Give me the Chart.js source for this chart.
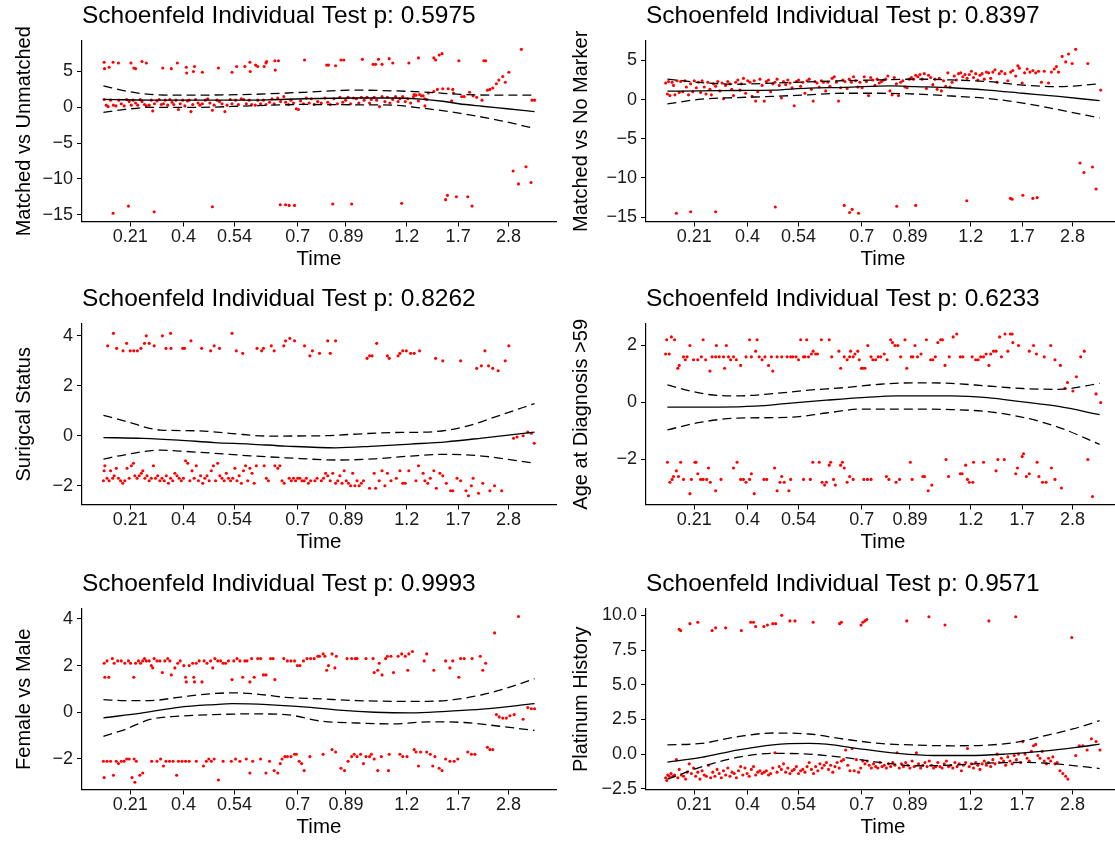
<!DOCTYPE html>
<html>
<head>
<meta charset="utf-8">
<script src="https://cdn.jsdelivr.net/npm/chart.js@4.4.1/dist/chart.umd.min.js"></script>
<style>
  html, body { margin: 0; padding: 0; background: #fff; overflow: hidden; }
  #page { position: relative; width: 1115px; height: 841px; overflow: hidden; }
  canvas { position: absolute; }
</style>
</head>
<body>
<div id="page">
  <canvas id="c1" width="557" height="280" style="left:0;top:-1px"></canvas>
  <canvas id="c2" width="565" height="280" style="left:557px;top:-1px"></canvas>
  <canvas id="c3" width="557" height="280" style="left:0;top:282px"></canvas>
  <canvas id="c4" width="565" height="280" style="left:557px;top:282px"></canvas>
  <canvas id="c5" width="557" height="280" style="left:0;top:567px"></canvas>
  <canvas id="c6" width="565" height="280" style="left:557px;top:567px"></canvas>
</div>
<script>
// x axis: KM-transformed time, tick positions and their time labels
var timeTickPos = [36.5, 51.4, 65.7, 83.4, 96.9, 113.9, 128.3, 142.4];
var timeTickLabels = ['0.21', '0.4', '0.54', '0.7', '0.89', '1.2', '1.7', '2.8'];
var timeMin = 23.0, timeMax = 155.7;

// Panel 1: Matched vs Unmatched
var mvuPoints = [
  [29.2,6.3],[29.3,5.4],[30.6,5.6],[31.7,6.3],[33.2,6.2],[36.7,6.2],[37.5,5.5],[38.0,5.4],[39.8,6.4],[41.0,6.2],[45.6,5.5],[48.0,5.4],[49.7,6.2],[52.2,5.6],[52.3,4.8],[54.5,5.7],[54.2,5.0],[56.7,4.9],[61.2,5.5],[65.0,4.9],[66.3,5.7],[68.6,5.7],[70.0,6.3],[70.1,5.0],[71.6,5.9],[72.2,5.7],[74.0,5.7],[74.5,6.2],[74.7,6.4],[77.0,6.5],[77.1,5.2],[78.0,6.5],[85.3,6.6],[91.5,5.9],[92.0,5.9],[94.0,5.8],[95.5,6.6],[96.3,6.6],[101.5,6.7],[104.5,6.0],[105.2,6.0],[106.0,6.7],[107.0,6.0],[109.0,6.8],[110.0,6.2],[114.5,6.2],[117.2,6.9],[121.5,6.9],[122.0,6.6],[123.0,7.3],[123.8,7.5],[128.5,6.5],[135.5,6.5],[136.0,6.5],[146.0,8.1],
  [136.5,2.4],[137.2,2.5],[138.0,2.7],[139.0,3.3],[139.7,3.8],[140.8,4.3],[141.5,3.5],[142.5,4.9],[149.7,1.0],[149.0,1.0],
  [31.7,-14.8],[36.0,-13.8],[43.2,-14.6],[59.5,-13.9],[78.5,-13.6],[80.0,-13.6],[81.0,-13.7],[82.5,-13.7],[93.2,-13.5],[98.5,-13.5],[112.5,-13.4],[124.8,-12.9],[125.3,-12.3],[127.8,-12.5],[131.0,-12.5],[132.2,-13.8],[143.7,-8.9],[145.2,-10.7],[147.3,-8.3],[148.7,-10.5],
  [120.0,2.0],[121.5,2.2],[122.5,2.5],[124.0,2.6],[125.5,2.6],[126.8,2.5],[127.0,2.0],[129.3,1.5],[130.0,1.5],[131.5,2.1],[132.5,1.6],[133.5,1.4],[135.0,1.0],[116.0,1.8],[117.5,1.8],[118.5,1.6],[119.0,1.2],[119.5,1.1],[119.0,0.2],[126.5,0.9],
  [29.2,1.1],[29.8,0.3],[30.3,0.1],[31.0,1.0],[31.8,0.3],[32.5,0.2],[33.3,1.0],[34.0,0.5],[34.8,0.2],[35.5,1.1],[36.2,0.8],[36.8,0.3],[37.3,1.0],[38.0,0.6],[38.6,0.3],[39.3,1.1],[39.8,0.8],[40.5,0.4],[41.0,0.2],[41.8,0.3],[42.4,1.0],[42.8,-0.5],[43.3,0.5],[44.0,0.9],[44.6,1.1],[45.2,0.4],[45.8,0.5],[46.3,1.0],[47.0,0.3],[47.6,1.1],[48.2,0.7],[48.7,0.4],[49.3,1.0],[50.0,-0.3],[50.5,0.5],[51.2,1.0],[51.8,0.2],[52.5,0.9],[53.0,1.0],[53.5,-0.6],[54.0,0.4],[54.8,1.1],[55.5,0.6],[56.0,0.3],[56.7,0.5],[57.5,1.0],[58.2,1.2],[58.8,0.6],[59.5,-0.4],[60.0,0.3],[60.8,1.0],[61.5,0.8],[62.2,0.5],[63.0,-0.6],[63.6,0.3],[64.5,1.1],[65.0,0.5],[66.0,1.0],[66.8,0.4],[67.6,1.2],[68.2,1.1],[69.0,0.5],[69.8,1.0],[70.5,0.4],[71.5,0.3],[72.2,1.0],[73.0,0.5],[73.8,1.0],[74.5,0.4],[75.5,0.7],[76.2,1.2],[76.8,0.5],[77.8,1.3],[78.6,0.8],[79.5,1.5],[80.0,0.7],[80.8,0.4],[81.5,1.0],[82.2,0.6],[83.0,-0.2],[83.6,-0.3],[84.2,0.9],[85.0,0.5],[85.8,1.3],[86.6,0.6],[87.2,1.2],[88.0,0.4],[89.0,0.8],[90.0,0.6],[91.0,1.3],[91.8,0.7],[92.5,0.4],[93.5,1.2],[94.5,0.5],[95.2,1.4],[96.0,0.7],[96.8,1.0],[97.5,1.4],[98.2,0.5],[99.0,1.3],[99.8,1.2],[100.5,0.6],[101.2,1.4],[102.0,1.0],[102.8,1.4],[103.5,0.6],[104.0,1.1],[104.8,1.4],[105.5,1.0],[106.3,0.1],[107.0,1.5],[107.8,0.8],[108.5,1.4],[109.2,0.6],[110.0,1.1],[110.8,1.5],[111.5,0.8],[112.0,1.2],[112.8,1.5],[113.5,0.8],[114.2,1.2],[115.0,0.6],[115.8,1.5],[116.5,1.7],[117.2,0.9],[118.0,1.6]
];
var mvuFit = [[29.0,1.1],[45.0,1.0],[60.0,1.0],[75.0,1.05],[85.0,1.2],[100.0,1.3],[110.0,1.3],[118.0,1.15],[124.0,0.85],[128.5,0.5],[135.0,0.15],[142.0,-0.2],[149.7,-0.6]];
var mvuUpper = [[29.0,3.0],[35.0,2.3],[42.0,1.8],[50.0,1.7],[70.0,1.8],[85.0,2.1],[100.0,2.4],[110.0,2.3],[120.0,2.1],[129.0,1.8],[140.0,1.7],[149.7,1.7]];
var mvuLower = [[29.0,-0.7],[35.0,-0.3],[42.0,0.0],[55.0,0.0],[70.0,0.2],[85.0,0.4],[100.0,0.35],[110.0,0.3],[118.0,-0.1],[129.0,-0.85],[140.0,-1.85],[149.7,-2.95]];

// Panel 2: Matched vs No Marker
var mvnPoints = [
  [28.5,2.1],[29.0,0.7],[29.3,2.3],[29.7,0.5],[30.3,2.2],[30.7,1.8],[31.1,0.6],[31.7,2.4],[32.3,0.9],[32.7,2.3],[33.3,1.0],[33.9,2.4],[34.3,1.6],[34.9,0.6],[35.5,2.0],[36.1,1.0],[36.5,2.4],[37.1,1.5],[37.7,2.2],[38.3,0.9],[38.7,2.4],[39.3,1.6],[39.8,0.7],[40.3,2.2],[40.9,1.3],[41.3,0.6],[41.9,2.0],[42.5,1.7],[43.1,2.3],[43.7,1.1],[44.3,2.1],[44.7,0.1],[45.3,1.8],[45.9,2.3],[46.5,2.0],[47.0,1.3],[47.5,0.5],[48.1,2.2],[48.7,2.5],[49.3,1.2],[49.7,2.0],[50.3,2.7],[50.9,0.8],[51.5,2.4],[52.1,2.2],[52.7,0.4],[53.3,2.4],[53.7,-0.2],[54.3,1.0],[54.9,2.6],[55.5,1.8],[56.1,-0.2],[56.7,2.3],[57.3,2.5],[57.9,1.0],[58.5,2.0],[59.1,2.2],[59.7,2.6],[60.3,1.8],[60.9,0.2],[61.5,2.3],[62.1,1.9],[62.7,2.5],[63.3,2.1],[63.9,1.5],[64.5,-0.8],[65.1,2.3],[65.7,2.5],[66.3,1.7],[66.9,2.2],[67.5,0.8],[68.1,2.4],[68.7,2.6],[69.3,1.3],[69.8,-0.2],[70.3,2.3],[70.9,2.1],[71.5,1.6],[72.1,2.4],[72.7,2.2],[73.3,1.1],[73.9,2.2],[74.5,1.7],[75.1,2.7],[75.7,2.9],[76.3,2.2],[76.9,-0.2],[77.5,1.5],[78.1,2.5],[78.7,2.3],[79.3,1.4],[79.9,2.6],[80.5,2.2],[81.1,2.9],[81.7,2.4],[82.3,1.6],[82.9,2.2],[83.5,1.5],[84.1,2.9],[84.7,2.3],[85.3,0.5],[85.9,2.8],[86.5,2.5],[87.1,1.8],[87.7,2.6],[88.3,2.1],[88.9,2.3],[89.5,2.5],[90.1,2.6],[90.7,3.0],[91.3,1.1],[91.9,0.6],[92.5,2.8],[93.1,2.0],[93.7,0.5],[94.3,2.2],[94.9,2.4],[95.5,1.6],[96.1,1.5],[96.7,2.6],[97.3,2.8],[97.9,2.6],[98.5,3.1],[99.1,2.9],[99.7,3.2],[100.3,2.6],[100.9,3.3],[101.5,1.4],[102.1,3.1],[102.7,2.8],[103.3,1.9],[103.9,2.6],[104.5,1.3],[105.1,2.7],[105.7,1.1],[106.3,2.4],[106.9,1.7],[107.5,3.4],[108.1,1.6],[108.7,2.2],[109.3,3.0],[109.9,2.5],[110.5,3.3],[111.1,3.4],[111.7,2.9],[112.3,3.2],[112.9,2.7],[113.5,3.2],[114.1,3.6],[114.7,2.8],[115.3,3.3],[115.9,2.5],[116.5,3.1],[117.1,3.3],[117.7,2.6],[118.3,3.5],[118.9,3.4],[119.5,2.7],[120.1,3.5],[120.7,3.8],[121.3,2.2],[121.9,3.3],[122.5,3.6],[123.5,3.3],[124.3,2.4],[125.1,3.5],[125.7,3.7],[126.5,3.0],[127.1,4.3],[127.5,4.0],[128.3,2.1],[129.0,3.4],[129.7,3.9],[130.5,3.5],[131.3,3.7],[132.1,3.4],[132.9,3.6],[133.7,2.2],[134.5,3.6],[135.7,2.1],[136.5,3.5],[137.3,3.9],[137.9,4.2],[138.5,3.5],[139.5,5.5],[140.5,4.8],[141.3,5.8],[142.3,4.6],[143.3,6.4],[146.7,4.6],[150.3,1.2],
  [31.5,-14.5],[35.5,-14.3],[42.5,-14.3],[59.2,-13.7],[78.5,-13.5],[80.0,-14.4],[80.7,-14.0],[82.5,-14.5],[93.2,-13.6],[98.5,-13.5],[112.8,-12.9],[125.0,-12.6],[125.5,-12.7],[128.5,-12.2],[131.3,-12.6],[132.5,-12.5],[144.5,-8.1],[145.6,-9.3],[148.0,-8.6],[149.0,-11.4]
];
var mvnFit = [[29.0,1.06],[38.5,1.1],[48.5,1.15],[58.5,1.2],[68.5,1.45],[78.5,1.55],[91.5,1.75],[98.5,1.65],[108.5,1.5],[118.5,1.2],[128.5,0.8],[138.5,0.4],[150.0,-0.15]];
var mvnUpper = [[29.0,2.6],[38.5,2.15],[48.5,1.95],[58.5,2.1],[68.5,2.25],[78.5,2.4],[88.5,2.5],[98.5,2.6],[108.5,2.5],[118.5,2.3],[128.5,1.85],[138.5,1.65],[150.0,2.0]];
var mvnLower = [[29.0,-0.55],[38.5,0.05],[48.5,0.25],[58.5,0.4],[68.5,0.6],[78.5,0.8],[88.5,0.8],[98.5,0.7],[108.5,0.45],[118.5,0.15],[128.5,-0.45],[138.5,-1.3],[150.0,-2.35]];

// Panel 3: Surigcal Status
var surgPoints = [
  [30.2,3.6],[31.8,4.1],[32.7,3.5],[34.5,3.4],[35.5,3.7],[36.5,3.4],[37.5,3.4],[38.5,3.4],[39.5,3.5],[40.5,3.7],[41.0,4.0],[41.8,3.7],[43.2,3.6],[45.5,4.0],[46.5,3.5],[47.8,4.1],[47.9,3.5],[51.2,3.5],[51.7,3.5],[53.5,3.8],[56.5,3.5],[59.0,3.4],[60.0,3.6],[61.5,3.5],[65.0,4.1],[66.2,3.4],[68.0,3.3],[72.0,3.5],[73.3,3.4],[73.8,3.5],[76.0,3.6],[76.8,3.4],[79.5,3.6],[80.0,3.8],[81.2,3.9],[82.5,3.8],[85.3,3.6],[86.8,3.2],[87.5,3.4],[89.5,3.3],[91.8,3.8],[92.5,3.3],[94.0,3.8],[102.8,3.1],[103.5,3.2],[104.2,3.2],[105.5,3.7],[108.5,3.2],[109.0,3.1],[111.5,3.2],[112.0,3.3],[112.8,3.4],[113.8,3.4],[115.0,3.3],[116.0,3.3],[117.5,3.4],[122.0,3.1],[124.0,3.0],[129.0,3.0],[133.5,2.7],[134.8,2.8],[135.8,3.4],[136.8,2.8],[138.0,2.7],[139.5,2.6],[141.5,3.0],[142.5,3.6],
  [143.8,-0.1],[144.8,-0.05],[146.5,0.0],[147.8,0.15],[148.8,0.1],[149.6,-0.3],
  [29.0,-1.8],[29.2,-1.4],[29.4,-1.2],[30.0,-1.7],[30.6,-1.8],[31.0,-1.4],[31.6,-1.7],[32.0,-1.6],[32.6,-1.3],[33.2,-1.7],[33.8,-1.8],[34.4,-1.9],[35.0,-1.8],[35.6,-1.3],[36.2,-1.7],[36.8,-1.2],[37.4,-1.1],[37.8,-1.6],[38.4,-1.7],[39.0,-1.6],[39.6,-1.5],[40.0,-1.4],[40.6,-1.7],[41.2,-1.6],[41.8,-1.8],[42.4,-1.7],[43.0,-1.2],[43.6,-1.7],[44.2,-1.6],[44.8,-1.8],[45.4,-1.7],[46.0,-1.8],[46.6,-1.6],[47.2,-1.9],[47.8,-1.7],[48.4,-1.8],[49.0,-1.5],[49.6,-1.6],[50.2,-1.7],[50.8,-1.8],[51.4,-1.7],[52.0,-1.0],[52.6,-1.1],[53.2,-1.8],[53.8,-1.4],[54.4,-1.7],[55.0,-1.2],[55.6,-1.8],[56.2,-1.6],[56.8,-1.9],[57.4,-1.7],[58.0,-1.6],[58.6,-1.8],[59.2,-1.4],[59.8,-1.2],[60.4,-1.8],[61.0,-1.1],[61.6,-1.6],[62.2,-1.7],[62.8,-1.8],[63.4,-1.5],[64.0,-1.7],[64.6,-1.8],[65.2,-1.7],[65.8,-1.3],[66.4,-1.8],[67.0,-1.6],[67.6,-1.9],[68.2,-1.4],[68.8,-1.2],[69.4,-1.8],[70.0,-1.3],[70.6,-1.5],[71.2,-1.9],[71.8,-1.2],[74.0,-1.2],[74.6,-1.7],[75.2,-1.8],[77.0,-1.2],[77.8,-1.3],[78.4,-1.2],[79.0,-1.8],[79.6,-1.9],[81.0,-1.7],[81.6,-1.8],[82.2,-1.7],[82.8,-1.8],[83.4,-1.7],[84.0,-1.7],[84.6,-1.8],[85.2,-1.8],[85.8,-1.7],[86.4,-1.9],[87.0,-1.8],[88.2,-1.8],[88.8,-1.7],[90.0,-1.8],[90.6,-1.7],[91.2,-1.5],[91.8,-1.6],[92.5,-1.8],[93.2,-1.5],[94.0,-1.9],[94.6,-1.8],[95.2,-1.6],[95.8,-1.9],[96.4,-1.4],[97.0,-1.8],[97.6,-1.9],[98.2,-2.0],[98.8,-1.5],[99.4,-2.0],[100.0,-1.8],[100.6,-2.0],[101.2,-1.9],[101.8,-1.8],[103.5,-2.1],[104.8,-1.5],[105.2,-2.1],[106.2,-1.8],[107.0,-1.4],[107.8,-2.0],[108.5,-1.5],[109.5,-1.8],[111.0,-1.7],[112.0,-1.4],[112.8,-1.9],[113.5,-1.9],[114.5,-1.4],[116.5,-1.8],[117.2,-1.2],[118.5,-1.5],[119.0,-1.8],[119.8,-1.9],[120.5,-1.7],[121.5,-1.4],[122.2,-2.1],[123.2,-1.5],[124.0,-1.6],[125.0,-1.9],[126.2,-2.2],[126.8,-2.2],[128.0,-1.7],[129.0,-1.8],[130.5,-2.2],[131.2,-2.4],[132.0,-2.0],[132.5,-1.7],[134.0,-2.3],[135.2,-1.9],[137.2,-2.2],[138.5,-2.0],[140.5,-2.2]
];
var surgFit = [[29.0,-0.07],[40.0,-0.1],[50.0,-0.17],[60.0,-0.27],[70.0,-0.33],[80.0,-0.41],[94.0,-0.48],[105.0,-0.41],[115.0,-0.33],[125.0,-0.24],[135.0,-0.09],[149.7,0.15]];
var surgUpper = [[29.0,0.82],[35.0,0.59],[45.0,0.23],[55.0,0.2],[65.0,0.09],[75.0,-0.01],[90.0,0.0],[100.0,0.07],[110.0,0.13],[120.0,0.15],[130.0,0.36],[140.0,0.82],[149.7,1.29]];
var surgLower = [[29.0,-0.93],[35.0,-0.76],[45.0,-0.57],[50.0,-0.61],[60.0,-0.7],[70.0,-0.8],[80.0,-0.88],[95.0,-0.97],[105.0,-0.92],[115.0,-0.81],[125.0,-0.74],[135.0,-0.81],[149.7,-1.1]];

// Panel 4: Age at Diagnosis >59
var agePoints = [
  [28.5,1.7],[28.8,2.2],[29.5,1.7],[30.1,2.3],[31.0,2.2],[31.9,1.2],[32.3,1.3],[33.5,1.6],[34.0,1.5],[34.5,1.6],[35.3,2.0],[36.3,1.5],[37.5,1.5],[38.5,1.6],[39.0,2.2],[39.7,1.5],[40.9,1.1],[41.5,1.6],[42.5,1.6],[42.7,2.0],[43.5,1.6],[44.7,1.6],[45.0,1.2],[45.5,2.0],[46.1,1.6],[46.7,1.5],[47.5,1.6],[48.3,1.5],[49.5,1.3],[51.0,1.6],[52.0,2.2],[52.5,1.6],[53.7,1.8],[54.1,2.2],[54.7,1.6],[55.5,1.5],[56.3,1.6],[57.3,1.3],[58.1,1.6],[58.5,1.1],[59.7,1.6],[61.0,1.6],[62.5,1.6],[63.5,1.6],[64.1,1.6],[65.0,1.6],[65.7,1.5],[66.3,2.2],[67.1,1.6],[67.5,1.6],[68.0,2.2],[68.5,1.6],[69.3,1.7],[69.8,1.8],[70.5,1.7],[71.0,1.7],[72.1,2.2],[74.3,2.2],[75.0,1.6],[77.0,1.8],[77.5,1.2],[78.5,1.6],[79.3,1.5],[80.0,1.6],[80.3,1.8],[81.0,1.6],[81.5,1.7],[82.3,1.8],[82.7,1.5],[83.3,1.2],[83.7,1.2],[84.3,1.2],[85.1,2.0],[86.0,1.6],[86.5,1.5],[87.3,1.5],[88.0,1.6],[88.7,1.6],[89.7,1.7],[90.5,1.5],[91.5,2.2],[92.0,2.1],[92.7,2.0],[93.5,2.0],[94.3,1.6],[95.5,2.2],[96.0,1.2],[97.3,1.6],[97.7,1.6],[98.3,2.0],[99.0,1.6],[100.0,1.7],[101.5,2.2],[102.7,1.5],[103.3,1.5],[104.0,1.6],[104.7,2.1],[105.5,2.2],[106.0,2.2],[106.7,1.3],[107.9,1.6],[109.0,2.3],[110.0,2.4],[111.0,1.6],[111.7,1.6],[114.3,1.6],[115.3,1.5],[116.0,1.5],[116.7,1.6],[117.5,1.6],[118.2,1.7],[119.0,1.3],[119.5,1.7],[120.3,1.8],[121.0,1.8],[122.0,2.3],[122.5,1.6],[123.5,2.4],[124.3,1.8],[125.0,2.4],[125.5,2.4],[125.7,2.1],[127.3,2.0],[130.3,1.8],[131.5,2.0],[132.3,1.7],[134.5,1.6],[136.3,2.0],[137.5,1.5],[139.0,1.3],[140.3,0.5],[141.0,0.7],[142.5,0.4],[143.5,0.9],[144.7,1.6],[145.7,1.8],[149.0,0.3],[150.3,0.0],
  [29.0,-2.1],[29.7,-2.8],[30.3,-2.7],[30.7,-2.6],[31.5,-2.4],[32.1,-2.6],[32.7,-2.1],[33.5,-2.7],[35.3,-3.2],[35.7,-2.7],[36.7,-2.1],[37.0,-2.1],[37.5,-2.5],[38.3,-2.7],[39.0,-2.7],[40.0,-2.7],[40.5,-2.3],[41.0,-2.8],[42.5,-3.1],[44.0,-2.7],[47.5,-2.3],[48.5,-2.1],[49.5,-2.7],[50.3,-2.7],[51.0,-2.8],[52.0,-2.7],[52.5,-2.5],[53.3,-3.2],[56.0,-2.7],[56.8,-2.7],[59.0,-2.3],[59.7,-3.1],[60.5,-2.8],[61.0,-2.6],[61.7,-2.8],[63.0,-3.1],[63.5,-2.7],[67.1,-2.7],[69.0,-2.7],[69.7,-2.1],[71.5,-2.1],[72.3,-2.8],[73.0,-2.9],[73.5,-2.8],[74.3,-2.2],[74.7,-2.1],[75.5,-2.7],[76.0,-2.9],[77.5,-2.2],[78.0,-2.1],[78.5,-2.3],[79.3,-2.8],[80.0,-2.6],[81.0,-2.7],[84.0,-2.7],[85.0,-2.7],[86.0,-2.7],[90.3,-2.6],[91.0,-2.7],[93.0,-2.8],[94.0,-2.7],[97.0,-2.1],[97.5,-2.7],[100.5,-2.6],[101.0,-2.6],[102.0,-3.1],[103.0,-2.9],[107.0,-2.0],[107.7,-2.6],[111.0,-2.5],[111.5,-2.5],[112.5,-2.2],[113.0,-2.7],[113.5,-2.8],[114.5,-2.8],[114.7,-2.1],[117.5,-2.1],[121.0,-2.4],[121.5,-2.0],[123.3,-2.0],[126.5,-2.5],[127.0,-2.3],[128.3,-1.9],[128.7,-1.8],[129.5,-2.6],[130.3,-2.5],[132.5,-2.1],[133.0,-2.6],[134.0,-2.8],[135.0,-2.8],[136.5,-2.3],[137.5,-2.7],[139.3,-3.0],[146.7,-2.0],[148.0,-3.3]
];
var ageFit = [[29.0,-0.16],[43.5,-0.16],[53.5,-0.13],[63.5,-0.02],[73.5,0.08],[83.5,0.17],[93.5,0.23],[108.5,0.23],[118.5,0.17],[128.5,0.02],[138.5,-0.14],[150.0,-0.43]];
var ageUpper = [[29.0,0.62],[33.5,0.46],[40.5,0.28],[48.5,0.23],[58.5,0.31],[68.5,0.43],[78.5,0.52],[88.5,0.64],[98.5,0.69],[108.5,0.67],[118.5,0.58],[128.5,0.49],[138.5,0.46],[150.0,0.67]];
var ageLower = [[29.0,-0.96],[38.5,-0.69],[48.5,-0.55],[63.5,-0.52],[73.5,-0.37],[83.5,-0.23],[98.5,-0.23],[108.5,-0.25],[118.5,-0.32],[128.5,-0.52],[138.5,-0.87],[150.0,-1.47]];

// Panel 5: Female vs Male
var sexPoints = [
  [29.2,2.1],[29.4,1.5],[30.0,2.2],[30.5,1.5],[31.5,2.3],[32.0,2.1],[33.0,2.2],[34.0,2.2],[35.0,2.1],[36.0,2.2],[36.6,2.1],[37.5,1.5],[38.0,2.1],[38.8,2.2],[39.4,2.1],[40.0,2.2],[40.5,2.3],[41.0,2.2],[41.8,2.2],[42.4,2.0],[42.8,1.9],[43.2,2.3],[44.0,2.2],[44.8,2.2],[45.5,1.7],[46.2,2.2],[47.0,2.3],[47.6,2.2],[48.0,1.6],[49.0,1.9],[49.8,2.1],[50.5,2.2],[51.5,2.0],[52.0,1.5],[52.2,1.3],[53.0,2.0],[54.0,2.1],[54.3,1.5],[54.5,1.3],[55.0,2.1],[55.8,2.2],[56.6,1.3],[57.2,2.2],[58.0,2.1],[59.0,2.2],[59.6,1.9],[60.2,2.3],[61.0,2.2],[61.8,2.2],[62.5,2.1],[63.2,2.1],[64.0,2.2],[65.0,1.4],[65.5,2.2],[66.4,2.3],[67.2,2.2],[68.0,1.5],[68.6,2.2],[69.2,2.2],[70.0,1.3],[70.5,2.3],[71.2,1.5],[72.2,2.3],[73.0,2.3],[73.8,1.6],[74.5,1.6],[75.8,2.3],[76.5,2.3],[77.0,1.4],[79.5,2.3],[80.5,2.2],[81.5,2.2],[82.5,2.2],[83.3,2.0],[84.0,2.0],[85.0,2.2],[86.0,2.3],[87.0,2.3],[88.0,2.3],[89.0,2.4],[89.5,2.4],[90.5,2.5],[91.0,2.4],[91.5,1.8],[92.0,2.0],[93.0,2.5],[93.8,1.9],[94.2,2.4],[97.2,2.3],[98.5,2.3],[99.5,2.3],[100.0,2.3],[102.5,2.3],[104.5,2.3],[104.8,1.7],[105.8,1.8],[106.2,2.1],[107.0,1.6],[108.0,2.3],[108.5,2.4],[109.5,2.4],[110.2,1.7],[111.5,2.4],[112.5,2.5],[113.5,2.4],[114.2,1.8],[114.5,2.5],[115.5,2.6],[118.8,2.2],[119.5,2.5],[121.5,1.8],[124.8,2.2],[126.0,1.9],[126.8,2.2],[128.5,1.5],[129.0,2.3],[130.0,2.3],[132.2,2.3],[134.5,2.4],[135.2,1.8],[136.0,2.1],[138.5,3.4],[145.2,4.1],
  [139.0,-0.1],[139.8,-0.2],[140.8,-0.25],[141.8,-0.25],[142.8,-0.15],[144.0,-0.1],[146.5,-0.3],[147.8,0.2],[148.8,0.15],[149.7,0.15],
  [29.0,-2.1],[29.2,-2.8],[30.0,-2.1],[31.0,-2.1],[31.8,-2.7],[32.6,-2.1],[33.2,-2.2],[34.0,-2.1],[34.8,-2.1],[35.5,-2.0],[36.2,-2.0],[37.0,-2.8],[37.6,-2.0],[37.8,-3.0],[38.2,-2.1],[39.2,-2.7],[40.0,-2.6],[42.5,-2.1],[44.0,-2.1],[45.0,-2.0],[45.8,-2.3],[46.5,-2.1],[47.5,-2.1],[48.5,-2.1],[49.5,-2.7],[50.0,-2.1],[51.0,-2.1],[52.0,-2.1],[53.0,-2.1],[55.0,-2.1],[57.0,-2.3],[57.8,-2.1],[58.5,-2.0],[59.2,-2.1],[60.0,-2.0],[61.2,-2.9],[62.5,-2.1],[64.8,-2.1],[66.0,-2.0],[67.2,-2.1],[69.0,-2.0],[70.0,-2.6],[70.8,-2.1],[73.0,-2.0],[74.5,-2.6],[75.5,-2.1],[76.8,-2.5],[77.8,-2.6],[78.5,-2.2],[79.0,-2.0],[79.8,-1.9],[80.5,-1.9],[81.5,-1.9],[82.5,-1.8],[83.0,-1.8],[83.8,-2.1],[84.5,-2.2],[85.2,-2.5],[86.8,-1.9],[90.5,-1.8],[93.0,-1.6],[94.0,-1.7],[95.5,-2.4],[96.5,-2.5],[97.5,-2.1],[98.5,-1.9],[99.2,-1.8],[100.0,-1.9],[101.0,-1.8],[101.8,-2.2],[102.5,-1.9],[103.5,-1.9],[104.0,-1.8],[104.8,-2.0],[105.8,-2.5],[106.8,-1.9],[108.8,-2.5],[109.0,-1.8],[112.0,-1.8],[112.8,-1.9],[114.0,-1.9],[116.0,-1.6],[116.5,-1.7],[117.2,-2.3],[117.8,-1.7],[119.5,-1.7],[120.5,-1.8],[121.2,-2.3],[121.8,-1.9],[123.0,-2.4],[123.8,-2.5],[124.8,-2.0],[126.0,-2.1],[127.2,-2.1],[128.2,-2.0],[131.0,-1.7],[132.0,-1.8],[133.0,-1.8],[136.5,-1.5],[137.2,-1.6],[138.0,-1.6]
];
var sexFit = [[29.0,-0.24],[40.0,-0.03],[50.0,0.21],[60.0,0.33],[65.0,0.37],[75.0,0.33],[85.0,0.23],[95.0,0.09],[105.0,0.0],[115.0,-0.03],[125.0,0.04],[135.0,0.13],[149.7,0.37]];
var sexUpper = [[29.0,0.54],[35.0,0.5],[42.0,0.5],[50.0,0.64],[58.0,0.78],[65.0,0.83],[72.0,0.78],[80.0,0.64],[90.0,0.57],[100.0,0.5],[110.0,0.47],[120.0,0.47],[127.0,0.54],[135.0,0.75],[142.0,1.04],[149.7,1.44]];
var sexLower = [[29.0,-1.03],[35.0,-0.74],[42.0,-0.31],[50.0,-0.17],[60.0,-0.1],[70.0,-0.07],[80.0,-0.1],[90.0,-0.38],[100.0,-0.46],[110.0,-0.5],[120.0,-0.41],[130.0,-0.44],[140.0,-0.6],[149.7,-0.78]];

// Panel 6: Platinum History
var platPoints = [
  [32.3,9.0],[32.7,8.9],[35.3,9.4],[37.5,9.5],[41.5,8.9],[42.5,9.1],[45.3,9.1],[49.7,8.9],[52.3,9.5],[53.1,9.5],[53.7,9.2],[56.0,9.2],[57.0,9.3],[58.5,9.4],[59.3,9.4],[61.0,10.0],[63.3,9.6],[64.7,9.6],[69.8,9.5],[77.2,9.4],[77.7,9.5],[83.2,9.3],[83.7,9.5],[84.3,9.6],[84.8,9.7],[96.0,9.6],[102.2,9.9],[106.7,9.3],[119.0,9.6],[126.5,9.9],[142.2,8.4],
  [28.5,-1.7],[28.8,-1.9],[29.1,-1.5],[29.5,-1.6],[30.0,-1.4],[30.5,-1.6],[31.0,-1.5],[31.5,-0.4],[31.9,-1.7],[32.3,-1.1],[32.9,-1.5],[33.5,-1.6],[34.1,-1.8],[34.5,-1.3],[35.1,-0.7],[35.7,-1.4],[36.3,-1.0],[36.9,-1.6],[37.5,-1.3],[38.1,-1.8],[38.7,-1.2],[39.3,-1.5],[39.9,-1.6],[40.5,-0.8],[41.1,-1.7],[41.7,-1.3],[42.3,-1.6],[42.9,-1.1],[43.5,-1.4],[44.1,-1.7],[44.7,-1.2],[45.3,-1.5],[45.9,-1.0],[46.5,-1.6],[47.1,-1.3],[47.7,-1.4],[48.3,-1.7],[48.9,-1.2],[49.5,-0.9],[50.1,-1.5],[50.7,-1.0],[51.3,-1.4],[51.9,-1.6],[52.5,-1.1],[53.1,-0.9],[53.7,-1.5],[54.3,-1.3],[54.9,-1.2],[55.5,-1.4],[56.1,-1.3],[56.7,-1.2],[57.3,-1.5],[57.9,-1.4],[58.5,-1.0],[59.1,0.1],[59.7,-1.3],[60.3,-0.9],[60.9,-1.1],[61.5,-0.7],[62.1,-1.3],[62.7,-1.0],[63.3,-1.4],[63.9,-1.2],[64.5,-1.1],[65.1,-0.9],[65.7,-1.4],[66.3,-1.2],[66.9,-1.1],[67.5,-1.3],[68.1,-0.9],[68.7,-0.6],[69.3,-1.1],[69.9,-1.4],[70.5,-0.9],[71.1,-1.2],[71.7,-0.7],[72.3,-1.0],[72.9,-0.8],[73.5,-0.6],[74.1,-1.1],[74.7,-0.8],[75.3,-1.3],[75.9,-0.9],[76.5,-0.6],[77.1,-1.0],[77.7,-0.5],[78.3,-0.4],[78.9,0.3],[79.5,-0.8],[80.1,-1.2],[80.7,0.4],[81.3,-1.2],[81.9,-0.4],[82.5,-1.3],[83.1,-1.0],[83.7,-0.5],[84.3,-0.7],[84.9,-0.5],[85.5,-0.8],[86.1,-1.0],[86.7,-0.7],[87.3,-0.9],[87.9,-1.0],[88.5,-0.6],[89.1,-0.9],[89.7,-0.8],[90.3,-1.0],[90.9,-0.7],[91.5,-0.9],[92.1,-0.6],[92.7,-0.8],[93.3,0.1],[93.9,-1.0],[94.5,-0.7],[95.1,-0.9],[95.7,-0.6],[96.3,-0.8],[96.9,-1.0],[97.5,-0.5],[98.1,-0.9],[98.7,0.1],[99.3,-0.7],[99.9,-1.0],[100.5,-0.8],[101.1,-0.6],[101.7,-0.9],[102.3,-0.5],[102.9,-0.8],[103.5,-1.0],[104.1,-0.9],[104.7,-0.6],[105.3,-0.9],[105.9,-1.0],[106.5,-0.7],[107.1,-0.5],[107.7,-0.9],[108.3,-0.8],[108.9,-1.0],[109.5,-0.6],[110.1,-0.9],[110.7,-0.7],[111.3,-1.2],[111.9,-0.8],[112.5,-0.6],[113.0,0.4],[113.5,-0.9],[114.1,-0.7],[114.7,-1.0],[115.3,-0.6],[115.9,-0.8],[116.5,-1.1],[117.1,-0.7],[117.7,-0.5],[118.3,-0.8],[118.9,-0.6],[119.5,-0.9],[120.1,-0.4],[120.7,-0.7],[121.3,0.0],[121.9,-0.6],[122.5,-0.3],[123.1,-0.5],[123.7,-0.8],[124.3,-0.2],[124.9,-0.5],[125.5,-0.7],[126.1,-0.1],[126.7,-0.4],[127.3,0.0],[127.9,-0.6],[128.5,0.9],[129.1,0.0],[129.7,-0.3],[130.3,-0.5],[130.9,0.2],[131.5,0.6],[132.1,0.7],[132.7,-0.1],[133.3,-0.3],[133.9,0.2],[134.5,-0.5],[135.1,-0.7],[135.7,-0.3],[136.3,-0.5],[136.9,-0.2],[137.5,-0.7],[138.1,-0.6],[138.9,-1.2],[139.7,-1.4],[140.5,-1.6],[141.1,-1.8],[143.3,-0.1],[144.3,0.6],[145.3,0.6],[146.5,0.3],[147.7,1.1],[149.0,0.9],[150.1,0.3]
];
var platFit = [[29.0,-0.58],[38.5,-0.24],[48.5,0.29],[58.5,0.67],[68.5,0.77],[73.5,0.72],[83.5,0.36],[93.5,0.05],[103.5,-0.1],[113.5,-0.1],[123.5,0.0],[133.5,0.19],[143.5,0.48],[150.0,0.72]];
var platUpper = [[29.0,0.67],[38.5,0.77],[48.5,1.25],[58.5,1.52],[68.5,1.45],[78.5,1.08],[88.5,0.77],[98.5,0.65],[108.5,0.6],[118.5,0.65],[126.5,0.84],[133.5,1.25],[142.5,1.81],[150.0,2.41]];
var platLower = [[29.0,-1.81],[38.5,-0.92],[48.5,-0.24],[58.5,0.05],[68.5,0.0],[78.5,-0.24],[88.5,-0.6],[98.5,-0.84],[108.5,-0.8],[118.5,-0.65],[128.5,-0.6],[138.5,-0.72],[150.0,-1.04]];

var FONT = '"Liberation Sans", Arial, Helvetica, sans-serif';

function toXY(pairs) {
  return pairs.map(function(p) { return {x: p[0], y: p[1]}; });
}

function fmtTick(v, digits) {
  var s = v.toFixed(digits);
  return s.charAt(0) === '-' ? '\u2212' + s.slice(1) : s;
}

function lineSet(pairs, dash) {
  return {
    type: 'line',
    data: toXY(pairs),
    borderColor: '#000',
    borderWidth: 1.3,
    borderDash: dash,
    pointRadius: 0,
    fill: false,
    cubicInterpolationMode: 'monotone'
  };
}

/**
 * Draws one Schoenfeld residual panel on the canvas with the given id.
 */
function drawPanel(id, p) {
  var yTickLabels = p.yTicks.map(function(v) { return fmtTick(v, p.yDigits); });
  new Chart(document.getElementById(id), {
    data: {
      datasets: [
        lineSet(p.fit, []),
        lineSet(p.upper, [9, 5]),
        lineSet(p.lower, [9, 5]),
        {
          type: 'scatter',
          data: toXY(p.points),
          pointRadius: 1.55,
          pointBackgroundColor: '#ff0000',
          pointBorderWidth: 0
        }
      ]
    },
    options: {
      responsive: false,
      animation: false,
      events: [],
      layout: {autoPadding: false, padding: {left: 0, right: p.padRight, top: 0, bottom: 0}},
      plugins: {
        legend: {display: false},
        tooltip: {enabled: false},
        title: {
          display: true,
          text: p.title,
          align: 'start',
          fullSize: false,
          color: '#000',
          font: {family: FONT, size: 24.5, weight: 'normal'},
          padding: {top: 2.8, bottom: 9.9}
        }
      },
      scales: {
        x: {
          type: 'linear',
          min: timeMin,
          max: timeMax,
          afterBuildTicks: function(s) {
            s.ticks = timeTickPos.map(function(v) { return {value: v}; });
          },
          afterFit: function(s) {
            s.height = 57.5;
            s.paddingLeft = 0;
            s.paddingRight = 0;
          },
          ticks: {
            autoSkip: false,
            maxRotation: 0,
            padding: 0,
            color: '#1a1a1a',
            font: {family: FONT, size: 18},
            callback: function(v, i) { return timeTickLabels[i]; }
          },
          grid: {display: true, drawOnChartArea: false, drawTicks: true, tickLength: 5, color: '#000', lineWidth: 1},
          border: {display: true, color: '#000', width: 1.2},
          title: {display: true, text: 'Time', color: '#000', font: {family: FONT, size: 20.5}, padding: {top: 0, bottom: 7.2}}
        },
        y: {
          type: 'linear',
          min: p.yMin,
          max: p.yMax,
          afterBuildTicks: function(s) {
            s.ticks = p.yTicks.map(function(v) { return {value: v}; });
          },
          afterFit: function(s) {
            s.width = p.yAxisWidth;
            s.paddingTop = 0;
            s.paddingBottom = 0;
          },
          ticks: {
            padding: 4,
            color: '#1a1a1a',
            font: {family: FONT, size: 18},
            callback: function(v, i) { return yTickLabels[i]; }
          },
          grid: {display: true, drawOnChartArea: false, drawTicks: true, tickLength: 5, color: '#000', lineWidth: 1},
          border: {display: true, color: '#000', width: 1.2},
          title: {display: true, text: p.yLabel, color: '#000', font: {family: FONT, size: 20}, padding: {top: 12.5, bottom: 0}}
        }
      }
    }
  });
}

// right column plots are as wide as the left ones and run past the picture's edge
var LEFT = {yAxisWidth: 82, padRight: 1};
var RIGHT = {yAxisWidth: 89, padRight: 2};

drawPanel('c1', Object.assign({
  title: 'Schoenfeld Individual Test p: 0.5975', yLabel: 'Matched vs Unmatched',
  points: mvuPoints, fit: mvuFit, upper: mvuUpper, lower: mvuLower,
  yMin: -15.95, yMax: 9.25, yTicks: [-15, -10, -5, 0, 5], yDigits: 0
}, LEFT));
drawPanel('c2', Object.assign({
  title: 'Schoenfeld Individual Test p: 0.8397', yLabel: 'Matched vs No Marker',
  points: mvnPoints, fit: mvnFit, upper: mvnUpper, lower: mvnLower,
  yMin: -15.55, yMax: 7.45, yTicks: [-15, -10, -5, 0, 5], yDigits: 0
}, RIGHT));
drawPanel('c3', Object.assign({
  title: 'Schoenfeld Individual Test p: 0.8262', yLabel: 'Surigcal Status',
  points: surgPoints, fit: surgFit, upper: surgUpper, lower: surgLower,
  yMin: -2.75, yMax: 4.47, yTicks: [-2, 0, 2, 4], yDigits: 0
}, LEFT));
drawPanel('c4', Object.assign({
  title: 'Schoenfeld Individual Test p: 0.6233', yLabel: 'Age at Diagnosis >59',
  points: agePoints, fit: ageFit, upper: ageUpper, lower: ageLower,
  yMin: -3.58, yMax: 2.75, yTicks: [-2, 0, 2], yDigits: 0
}, RIGHT));
drawPanel('c5', Object.assign({
  title: 'Schoenfeld Individual Test p: 0.9993', yLabel: 'Female vs Male',
  points: sexPoints, fit: sexFit, upper: sexUpper, lower: sexLower,
  yMin: -3.31, yMax: 4.42, yTicks: [-2, 0, 2, 4], yDigits: 0
}, LEFT));
drawPanel('c6', Object.assign({
  title: 'Schoenfeld Individual Test p: 0.9571', yLabel: 'Platinum History',
  points: platPoints, fit: platFit, upper: platUpper, lower: platLower,
  yMin: -2.55, yMax: 10.45, yTicks: [-2.5, 0, 2.5, 5, 7.5, 10], yDigits: 1
}, RIGHT));
</script>
</body>
</html>
